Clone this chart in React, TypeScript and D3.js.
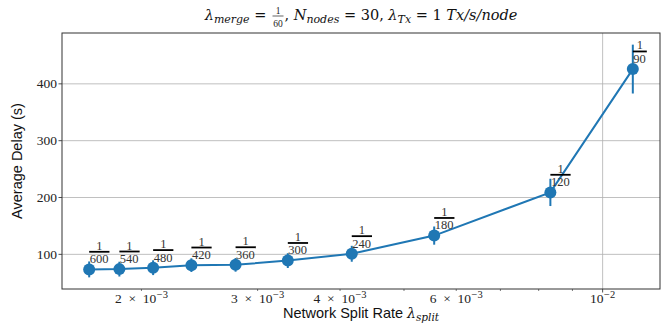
import React, { useRef, useEffect } from 'react';
import * as d3 from 'd3';

// split rate = 1/denominator
const denominators = [600, 540, 480, 420, 360, 300, 240, 180, 120, 90];
const delays = [73.5, 74, 76.5, 81, 81.5, 89, 101, 133, 209, 426];
const errors = [14, 13, 13, 12, 12, 13, 14, 16, 24, 43];
const yTicks = [100, 200, 300, 400];
const xLabelTicks = [0.002, 0.003, 0.004, 0.006, 0.01];
const xLabelMantissa = ['2', '3', '4', '6', ''];
const xLabelExponent = ['\u22123', '\u22123', '\u22123', '\u22123', '\u22122'];
const xMinorTicks = [0.002, 0.003, 0.004, 0.005, 0.006, 0.007, 0.008, 0.009];

const W = 667, H = 328;
const margin = { left: 62, right: 7, top: 33, bottom: 39 };
const BLUE = '#1f77b4';
const SERIF = '"Liberation Serif", "DejaVu Serif", serif';
const MATH = '"DejaVu Serif", serif';
const SANS = '"Liberation Sans", "DejaVu Sans", sans-serif';

// draws a run of pieces left to right, then centers it on cx
function drawRun(parent: any, pieces: any[], cx: number, y: number) {
  const g = parent.append('g');
  let x = 0;
  pieces.forEach((p) => {
    if (p.frac) {
      const num = g.append('text').attr('font-family', SERIF).attr('font-size', p.s).attr('fill', '#222').text(p.frac[0]);
      const den = g.append('text').attr('font-family', SERIF).attr('font-size', p.s).attr('fill', '#222').text(p.frac[1]);
      const wn = (num.node() as any).getComputedTextLength();
      const wd = (den.node() as any).getComputedTextLength();
      const w = Math.max(wn, wd) + 1.5;
      x += 1.5;
      num.attr('x', x + (w - wn) / 2).attr('y', y - 6);
      den.attr('x', x + (w - wd) / 2).attr('y', y + 7);
      g.append('line').attr('x1', x).attr('x2', x + w).attr('y1', y - 4).attr('y2', y - 4)
        .attr('stroke', '#222').attr('stroke-width', 0.7);
      x += w + 1;
    } else {
      const t = g.append('text')
        .attr('x', x).attr('y', y + (p.dy || 0))
        .attr('font-family', p.f || MATH)
        .attr('font-size', p.s)
        .attr('font-style', p.it ? 'italic' : 'normal')
        .attr('fill', '#111')
        .attr('xml:space', 'preserve')
        .style('white-space', 'pre')
        .text(p.t);
      x += (t.node() as any).getComputedTextLength();
    }
  });
  g.attr('transform', `translate(${cx - x / 2},0)`);
  return g;
}

const App = () => {
  const svgRef = useRef<SVGSVGElement>(null);

  useEffect(() => {
    const svg = d3.select(svgRef.current);
    svg.selectAll('*').remove();

    const rates = denominators.map((d) => 1 / d);
    const lo = d3.min(rates) as number, hi = d3.max(rates) as number;
    const pad = Math.pow(10, 0.05 * Math.log10(hi / lo));
    const x = d3.scaleLog().domain([lo / pad, hi * pad]).range([margin.left, W - margin.right]);

    const yLo = d3.min(delays.map((d, i) => d - errors[i])) as number;
    const yHi = d3.max(delays.map((d, i) => d + errors[i])) as number;
    const yPad = (yHi - yLo) * 0.05;
    const y = d3.scaleLinear().domain([yLo - yPad, yHi + yPad]).range([H - margin.bottom, margin.top]);

    const x0 = margin.left, x1 = W - margin.right, y0 = margin.top, y1 = H - margin.bottom;

    // grid
    svg.append('g').selectAll('line').data(yTicks).join('line')
      .attr('x1', x0).attr('x2', x1).attr('y1', (d) => y(d)).attr('y2', (d) => y(d))
      .attr('stroke', '#b0b0b0').attr('stroke-width', 0.8);
    svg.append('line').attr('x1', x(0.01)).attr('x2', x(0.01)).attr('y1', y0).attr('y2', y1)
      .attr('stroke', '#b0b0b0').attr('stroke-width', 0.8);

    // ticks
    svg.append('g').selectAll('line').data(yTicks).join('line')
      .attr('x1', x0 - 3.5).attr('x2', x0).attr('y1', (d) => y(d)).attr('y2', (d) => y(d))
      .attr('stroke', '#222').attr('stroke-width', 0.8);
    svg.append('g').selectAll('line').data(xMinorTicks).join('line')
      .attr('x1', (d) => x(d)).attr('x2', (d) => x(d)).attr('y1', y1).attr('y2', y1 + 2)
      .attr('stroke', '#222').attr('stroke-width', 0.6);
    svg.append('line').attr('x1', x(0.01)).attr('x2', x(0.01)).attr('y1', y1).attr('y2', y1 + 3.5)
      .attr('stroke', '#222').attr('stroke-width', 0.8);

    svg.append('g').selectAll('text').data(yTicks).join('text')
      .attr('x', x0 - 5).attr('y', (d) => y(d) + 4.5)
      .attr('text-anchor', 'end').attr('font-family', SERIF).attr('font-size', 13.5).attr('fill', '#222')
      .text((d) => d);

    xLabelTicks.forEach((v, i) => {
      const t = svg.append('text').attr('x', x(v)).attr('y', y1 + 14)
        .attr('text-anchor', 'middle').attr('font-family', SERIF).attr('font-size', 13.5).attr('fill', '#222');
      if (xLabelMantissa[i]) t.append('tspan').text(xLabelMantissa[i] + '\u2002\u00d7\u2002');
      t.append('tspan').text('10');
      t.append('tspan').attr('dy', -5.5).attr('dx', 0.5).attr('font-size', 10.5).text(xLabelExponent[i]);
    });

    // frame
    svg.append('rect').attr('x', x0).attr('y', y0).attr('width', x1 - x0).attr('height', y1 - y0)
      .attr('fill', 'none').attr('stroke', '#333').attr('stroke-width', 1);

    // error bars
    svg.append('g').selectAll('line').data(delays).join('line')
      .attr('x1', (d, i) => x(rates[i])).attr('x2', (d, i) => x(rates[i]))
      .attr('y1', (d, i) => y(d - errors[i])).attr('y2', (d, i) => y(d + errors[i]))
      .attr('stroke', BLUE).attr('stroke-width', 2);

    const line = d3.line<number>().x((d, i) => x(rates[i])).y((d) => y(d));
    svg.append('path').attr('d', line(delays)).attr('fill', 'none').attr('stroke', BLUE).attr('stroke-width', 2);

    svg.append('g').selectAll('circle').data(delays).join('circle')
      .attr('cx', (d, i) => x(rates[i])).attr('cy', (d) => y(d)).attr('r', 6).attr('fill', BLUE);

    // fraction labels above points
    denominators.forEach((den, i) => {
      const px = x(rates[i]);
      const by = y(delays[i] + 31);
      const g = svg.append('g');
      const dt = g.append('text').attr('x', px + 0.5).attr('y', by + 11.5)
        .attr('font-family', SERIF).attr('font-size', 12.5).attr('fill', '#333').text(den);
      const w = (dt.node() as any).getComputedTextLength() + 1.5;
      g.append('text').attr('x', px + w / 2).attr('y', by - 2).attr('text-anchor', 'middle')
        .attr('font-family', SERIF).attr('font-size', 12.5).attr('fill', '#333').text('1');
      g.append('line').attr('x1', px).attr('x2', px + w).attr('y1', by).attr('y2', by)
        .attr('stroke', '#000').attr('stroke-width', 1.8);
    });

    // title
    drawRun(svg, [
      { t: '\u03bb', it: true, s: 14.5 },
      { t: 'merge', it: true, s: 11, dy: 3 },
      { t: ' = ', s: 14.5 },
      { frac: ['1', '60'], s: 9.5 },
      { t: ', ', s: 14.5 },
      { t: 'N', it: true, s: 14.5 },
      { t: 'nodes', it: true, s: 11, dy: 3 },
      { t: ' = 30, ', s: 14.5 },
      { t: '\u03bb', it: true, s: 14.5 },
      { t: 'Tx', it: true, s: 11, dy: 3 },
      { t: ' = 1 ', s: 14.5 },
      { t: 'Tx/s/node', it: true, s: 14.5 },
    ], (x0 + x1) / 2, 20);

    // x label
    drawRun(svg, [
      { t: 'Network Split Rate ', s: 14.5, f: SANS },
      { t: '\u03bb', it: true, s: 14 },
      { t: 'split', it: true, s: 10.5, dy: 3 },
    ], (x0 + x1) / 2, 318);

    // y label
    svg.append('text')
      .attr('transform', `translate(22,${(y0 + y1) / 2}) rotate(-90)`)
      .attr('text-anchor', 'middle').attr('font-family', SANS).attr('font-size', 14.5).attr('fill', '#111')
      .text('Average Delay (s)');
  }, []);

  return (
    <svg ref={svgRef} width={W} height={H} style={{ position: 'absolute', left: 0, top: 0, background: '#fff' }}></svg>
  );
};

export default App;
